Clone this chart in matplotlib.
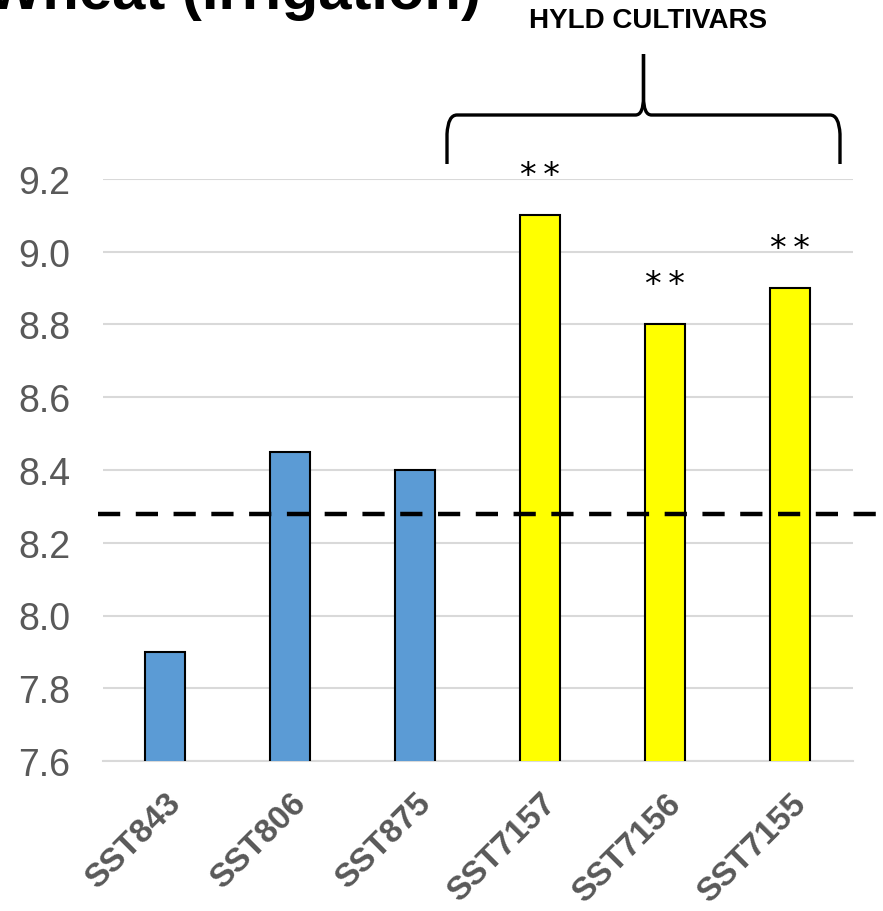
import matplotlib
matplotlib.use("Agg")
import matplotlib.pyplot as plt
from matplotlib.path import Path
from matplotlib.patches import PathPatch
from matplotlib.transforms import Affine2D, ScaledTranslation

plt.rcParams['font.family'] = ['Liberation Sans', 'DejaVu Sans']

cultivars = ['SST843', 'SST806', 'SST875', 'SST7157', 'SST7156', 'SST7155']
values = [7.9, 8.45, 8.4, 9.1, 8.8, 8.9]
colors = ['#5b9bd5', '#5b9bd5', '#5b9bd5', '#ffff00', '#ffff00', '#ffff00']
marks = ['', '', '', '*\u2009*', '*\u2009*', '*\u2009*']
mean_line = 8.28
yticks = [7.6, 7.8, 8.0, 8.2, 8.4, 8.6, 8.8, 9.0, 9.2]

W, H = 883, 912
fig = plt.figure(figsize=(W / 100, H / 100), dpi=100)
ax = fig.add_axes([102.5 / W, 1 - 762 / H, 750 / W, (762 - 180) / H])

x = range(len(cultivars))
ax.bar(x, values, width=0.32, color=colors, edgecolor='black', linewidth=1.5, zorder=3)
ax.set_xlim(-0.5, 5.5)
ax.set_ylim(7.6, 9.2)
ax.set_yticks(yticks)
ax.set_yticklabels([f'{v:.1f}' for v in yticks], fontsize=27, color='#595959')
ax.set_xticks(list(x))
ax.set_xticklabels(cultivars, rotation=45, ha='right', rotation_mode='anchor',
                   fontsize=24, fontweight='bold', color='#595959')
shift = ScaledTranslation(8 / 100, 3 / 100, fig.dpi_scale_trans)
for lbl in ax.get_xticklabels():
    lbl.set_transform(lbl.get_transform() + shift)
ax.tick_params(length=0, axis='y', pad=23)
ax.tick_params(length=0, axis='x', pad=19)
ax.grid(axis='y', color='#d9d9d9', linewidth=1.5, zorder=0)
ax.set_axisbelow(True)
for s in ['top', 'right', 'left']:
    ax.spines[s].set_visible(False)
ax.spines['bottom'].set_color('#d9d9d9')
ax.spines['bottom'].set_linewidth(1.5)

# mean dashed line, runs past the plot area
ax.plot([-0.54, 5.75], [mean_line, mean_line], color='black', linestyle=(0, (5, 3.5)),
        linewidth=3.2, clip_on=False, zorder=4)

for xi, v, m in zip(x, values, marks):
    if m:
        ax.text(xi, v + 0.084, m, ha='center', va='baseline', fontsize=24,
                family='DejaVu Sans', color='black')

# brace over the HYLD cultivars, drawn in pixel coords from top-left
px = Affine2D().scale(1, -1).translate(0, H)
xl, xr, xm = 447, 840, 643.5
yb, yh, yt = 165, 116, 55
left = [(xl, yb), (xl, 135), (xl + 1, yh), (xl + 10, yh),
        (xm - 8, yh), (xm, yh), (xm, 98), (xm, yt)]
codes = [Path.MOVETO, Path.LINETO, Path.CURVE3, Path.CURVE3,
         Path.LINETO, Path.CURVE3, Path.CURVE3, Path.LINETO]
right = [(2 * xm - a, b) for a, b in left]
for vv in (left, right):
    fig.add_artist(PathPatch(Path(vv, codes), facecolor='none', edgecolor='black',
                             linewidth=2.4, transform=px, capstyle='butt'))

fig.text(648 / W, 1 - 21 / H, 'HYLD CULTIVARS', ha='center', va='center',
         fontsize=20, fontweight='bold')
fig.text(481 / W, 1 - 9 / H, 'Wheat (Irrigation)', ha='right', va='baseline',
         fontsize=43, fontweight='bold')

fig.savefig('out.png', dpi=100)
